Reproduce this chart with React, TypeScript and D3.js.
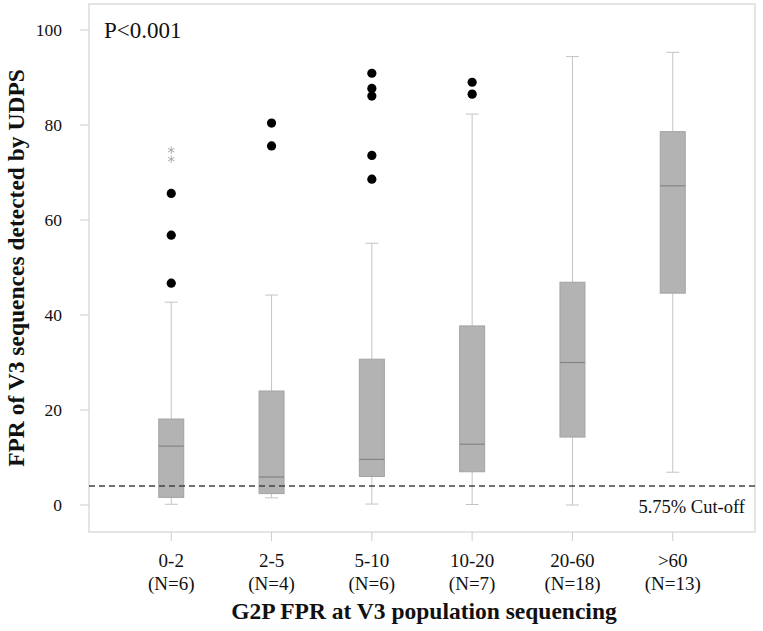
import * as d3 from "d3";
import { useRef, useEffect } from "react";

const categories = ["0-2", "2-5", "5-10", "10-20", "20-60", ">60"];
const counts = [6, 4, 6, 7, 18, 13];
const whiskerLow = [0.15, 1.5, 0.2, 0.1, 0, 6.9];
const q1 = [1.6, 2.4, 6.0, 7.0, 14.3, 44.6];
const medians = [12.4, 5.9, 9.6, 12.8, 30.0, 67.2];
const q3 = [18.1, 24.0, 30.7, 37.7, 46.9, 78.6];
const whiskerHigh = [42.7, 44.2, 55.1, 82.3, 94.4, 95.3];
const outliers = [
  [46.7, 56.8, 65.6],
  [75.6, 80.4],
  [68.6, 73.6, 86.1, 87.7, 90.9],
  [86.5, 89.0],
  [],
  [],
];
const extremes = [[72.8, 74.7], [], [], [], [], []];
const yTicks = [0, 20, 40, 60, 80, 100];
const cutoff = 4.0;

const W = 763;
const H = 631;
const margin = { top: 4, right: 8, bottom: 99, left: 89 };
const font = "'Liberation Serif', 'Times New Roman', serif";

export default function App() {
  const svgRef = useRef<SVGSVGElement | null>(null);

  useEffect(() => {
    document.body.style.margin = "0";
    const svg = d3.select(svgRef.current);
    svg.selectAll("*").remove();

    const x = d3
      .scalePoint()
      .domain(categories)
      .range([margin.left, W - margin.right])
      .padding(0.82);

    const y = d3
      .scaleLinear()
      .domain([0, 100])
      .range([505, 30]);

    const bottom = H - margin.bottom;
    const boxW = 25;
    const capW = 13;

    // frame
    svg
      .append("rect")
      .attr("x", margin.left)
      .attr("y", margin.top)
      .attr("width", W - margin.left - margin.right)
      .attr("height", bottom - margin.top)
      .attr("fill", "none")
      .attr("stroke", "#dcdcdc")
      .attr("stroke-width", 1.5);

    // y axis ticks and labels
    const yg = svg.append("g");
    yg.selectAll("line")
      .data(yTicks)
      .join("line")
      .attr("x1", margin.left - 9)
      .attr("x2", margin.left)
      .attr("y1", (d) => y(d))
      .attr("y2", (d) => y(d))
      .attr("stroke", "#cccccc");
    yg.selectAll("text")
      .data(yTicks)
      .join("text")
      .attr("x", 62)
      .attr("y", (d) => y(d))
      .attr("dy", "0.35em")
      .attr("text-anchor", "end")
      .attr("font-family", font)
      .attr("font-size", 17.5)
      .attr("fill", "#111")
      .text((d) => d);

    // x axis ticks and labels
    const xg = svg.append("g");
    xg.selectAll("line")
      .data(categories)
      .join("line")
      .attr("x1", (d) => x(d)!)
      .attr("x2", (d) => x(d)!)
      .attr("y1", bottom)
      .attr("y2", bottom + 9)
      .attr("stroke", "#cccccc");
    xg.selectAll("text.cat")
      .data(categories)
      .join("text")
      .attr("class", "cat")
      .attr("x", (d) => x(d)!)
      .attr("y", 567)
      .attr("text-anchor", "middle")
      .attr("font-family", font)
      .attr("font-size", 19)
      .attr("fill", "#111")
      .text((d) => d);
    xg.selectAll("text.n")
      .data(categories)
      .join("text")
      .attr("class", "n")
      .attr("x", (d) => x(d)!)
      .attr("y", 590)
      .attr("text-anchor", "middle")
      .attr("font-family", font)
      .attr("font-size", 19)
      .attr("fill", "#111")
      .text((d, i) => `(N=${counts[i]})`);

    // axis titles
    svg
      .append("text")
      .attr("x", 424)
      .attr("y", 619)
      .attr("text-anchor", "middle")
      .attr("font-family", font)
      .attr("font-size", 23.5)
      .attr("font-weight", "bold")
      .attr("fill", "#111")
      .text("G2P FPR at V3 population sequencing");
    svg
      .append("text")
      .attr("transform", `translate(24,${(margin.top + bottom) / 2}) rotate(-90)`)
      .attr("text-anchor", "middle")
      .attr("font-family", font)
      .attr("font-size", 23.5)
      .attr("font-weight", "bold")
      .attr("fill", "#111")
      .text("FPR of V3 sequences detected by UDPS");

    // boxes
    const boxes = svg
      .append("g")
      .selectAll("g")
      .data(categories)
      .join("g")
      .attr("transform", (d) => `translate(${x(d)},0)`);

    boxes
      .append("line")
      .attr("y1", (d, i) => y(whiskerLow[i]))
      .attr("y2", (d, i) => y(q1[i]))
      .attr("stroke", "#c4c4c4");
    boxes
      .append("line")
      .attr("y1", (d, i) => y(q3[i]))
      .attr("y2", (d, i) => y(whiskerHigh[i]))
      .attr("stroke", "#c4c4c4");
    boxes
      .append("line")
      .attr("x1", -capW / 2)
      .attr("x2", capW / 2)
      .attr("y1", (d, i) => y(whiskerLow[i]))
      .attr("y2", (d, i) => y(whiskerLow[i]))
      .attr("stroke", "#c4c4c4");
    boxes
      .append("line")
      .attr("x1", -capW / 2)
      .attr("x2", capW / 2)
      .attr("y1", (d, i) => y(whiskerHigh[i]))
      .attr("y2", (d, i) => y(whiskerHigh[i]))
      .attr("stroke", "#c4c4c4");
    boxes
      .append("rect")
      .attr("x", -boxW / 2)
      .attr("width", boxW)
      .attr("y", (d, i) => y(q3[i]))
      .attr("height", (d, i) => y(q1[i]) - y(q3[i]))
      .attr("fill", "#b3b3b3")
      .attr("stroke", "#a3a3a3");
    boxes
      .append("line")
      .attr("x1", -boxW / 2)
      .attr("x2", boxW / 2)
      .attr("y1", (d, i) => y(medians[i]))
      .attr("y2", (d, i) => y(medians[i]))
      .attr("stroke", "#858585")
      .attr("stroke-width", 1.2);

    // outliers
    boxes
      .selectAll("circle")
      .data((d, i) => outliers[i])
      .join("circle")
      .attr("cy", (v) => y(v))
      .attr("r", 4.6)
      .attr("fill", "#000");

    const star = d3.symbol().type(d3.symbolAsterisk).size(40);
    boxes
      .selectAll("path.ext")
      .data((d, i) => extremes[i])
      .join("path")
      .attr("class", "ext")
      .attr("transform", (v) => `translate(0,${y(v)})`)
      .attr("d", star)
      .attr("fill", "none")
      .attr("stroke", "#9a9a9a")
      .attr("stroke-width", 0.8);

    // cut-off line
    svg
      .append("line")
      .attr("x1", margin.left)
      .attr("x2", W - margin.right)
      .attr("y1", y(cutoff))
      .attr("y2", y(cutoff))
      .attr("stroke", "#444")
      .attr("stroke-width", 1.5)
      .attr("stroke-dasharray", "6 4");
    svg
      .append("text")
      .attr("x", 745)
      .attr("y", 513)
      .attr("text-anchor", "end")
      .attr("font-family", font)
      .attr("font-size", 18.5)
      .attr("fill", "#111")
      .text("5.75% Cut-off");

    svg
      .append("text")
      .attr("x", 104)
      .attr("y", 38)
      .attr("font-family", font)
      .attr("font-size", 23)
      .attr("fill", "#111")
      .text("P<0.001");
  }, []);

  return <svg ref={svgRef} width={W} height={H} style={{ display: "block" }}></svg>;
}
